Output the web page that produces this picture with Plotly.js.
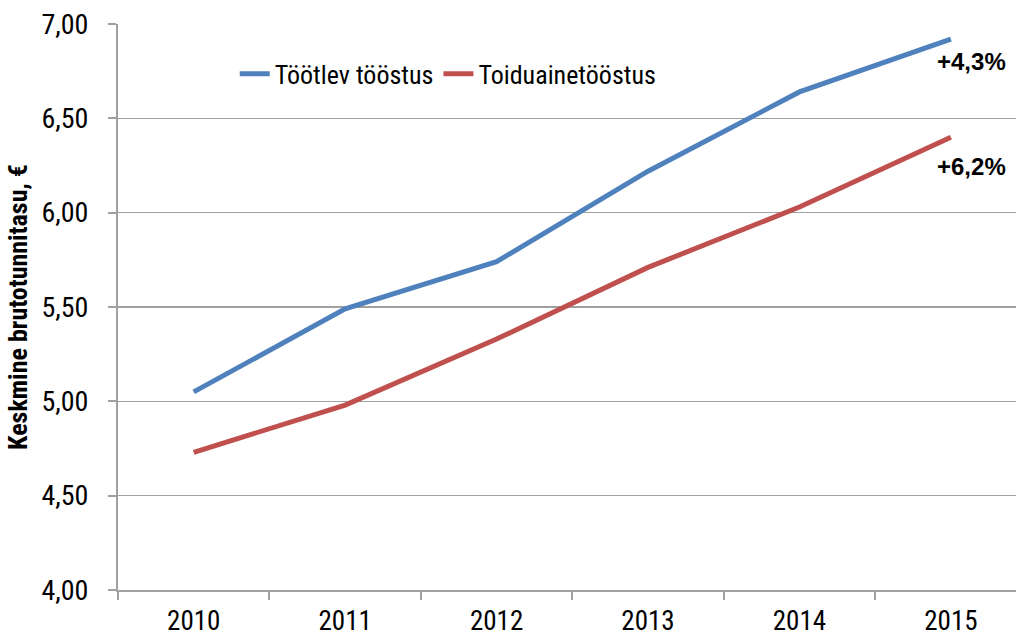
<!DOCTYPE html>
<html><head><meta charset="utf-8">
<script src="https://cdn.plot.ly/plotly-3.0.1.min.js"></script>
<style>html,body{margin:0;padding:0;background:#fff;overflow:hidden}</style>
</head><body><div id="chart" style="width:1016px;height:638px"></div>
<script>
const years = ['2010','2011','2012','2013','2014','2015'];
const tootlev = [5.05, 5.49, 5.74, 6.22, 6.64, 6.92];
const toiduaine = [4.73, 4.98, 5.33, 5.71, 6.03, 6.40];
const seriesNames = ['Töötlev tööstus', 'Toiduainetööstus'];
const growthLabels = ['+4,3%', '+6,2%'];
const yTicks = [4, 4.5, 5, 5.5, 6, 6.5, 7];
const yTickText = ['4,00','4,50','5,00','5,50','6,00','6,50','7,00'];

const FONT = '"Roboto Condensed", "Liberation Sans Narrow", "DejaVu Sans Condensed", Roboto, sans-serif';
const last = years.length - 1;

const traces = [
  {x: years, y: tootlev, name: seriesNames[0], type: 'scatter', mode: 'lines',
   line: {color: '#4F81BD', width: 5}},
  {x: years, y: toiduaine, name: seriesNames[1], type: 'scatter', mode: 'lines',
   line: {color: '#C0504D', width: 5}}
];

const layout = {
  width: 1016, height: 638,
  margin: {l: 118, r: 0, t: 24, b: 48},
  paper_bgcolor: '#fff', plot_bgcolor: '#fff',
  font: {family: FONT, size: 28, color: '#000'},
  showlegend: true,
  legend: {orientation: 'h', x: 0.13, y: 0.912, xanchor: 'left', yanchor: 'middle',
           font: {size: 26, family: FONT}, bgcolor: 'rgba(0,0,0,0)', itemwidth: 30},
  xaxis: {type: 'category', range: [-0.5, 5.43], tickson: 'boundaries',
          ticks: 'outside', ticklen: 8, tickcolor: '#A0A0A0', tickwidth: 2,
          showline: true, linecolor: '#A0A0A0', linewidth: 2, showgrid: false,
          ticklabelstandoff: 6, tickfont: {size: 27, family: FONT}, zeroline: false},
  yaxis: {range: [4, 7], tickvals: yTicks, ticktext: yTickText,
          ticks: 'outside', ticklen: 8, tickcolor: '#A0A0A0', tickwidth: 2,
          showline: true, linecolor: '#A0A0A0', linewidth: 2,
          showgrid: true, gridcolor: '#A0A0A0', gridwidth: 1.5, zeroline: false,
          ticklabelstandoff: 14, tickfont: {size: 28, family: FONT},
          title: {text: '<b>Keskmine brutotunnitasu, €</b>', font: {size: 26, family: FONT}, standoff: 6}},
  annotations: [
    {x: last, y: tootlev[last], xref: 'x', yref: 'y', text: '<b>' + growthLabels[0] + '</b>', showarrow: false,
     xanchor: 'left', yanchor: 'middle', xshift: -16, yshift: -22, font: {size: 24, family: 'Liberation Sans, Arial, sans-serif'}},
    {x: last, y: toiduaine[last], xref: 'x', yref: 'y', text: '<b>' + growthLabels[1] + '</b>', showarrow: false,
     xanchor: 'left', yanchor: 'middle', xshift: -16, yshift: -29, font: {size: 24, family: 'Liberation Sans, Arial, sans-serif'}}
  ]
};

Plotly.newPlot('chart', traces, layout, {displayModeBar: false, staticPlot: true});
</script></body></html>
